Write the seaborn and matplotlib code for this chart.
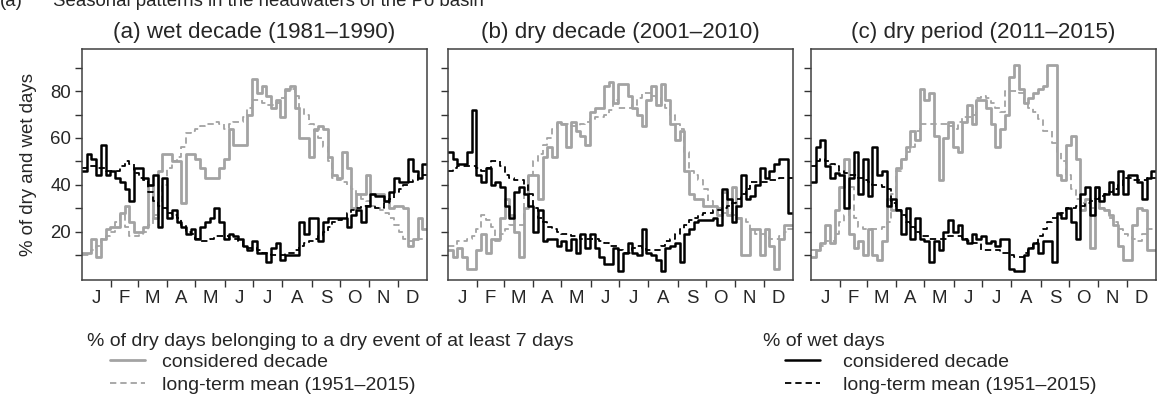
import numpy as np
import pandas as pd
import seaborn as sns
import matplotlib.pyplot as plt
from matplotlib.ticker import FixedLocator, NullFormatter

# pentad values (73 per year)
# (a) wet decade 1981-1990
wet_a = [46, 53, 51, 44, 57, 44, 46, 43, 41, 38, 33, 47,
         47, 43, 40, 44, 22, 43, 26, 29, 24, 22, 19, 21,
         17, 22, 24, 26, 30, 24, 17, 19, 18, 17, 14, 12,
         16, 11, 11, 7, 13, 15, 8, 10, 10, 10, 24, 19,
         26, 26, 16, 24, 26, 26, 26, 26, 22, 27, 29, 24,
         31, 36, 35, 35, 33, 37, 43, 41, 41, 51, 46, 43, 49]
wet_mean_a = [47, 48, 48, 47, 47, 46, 46, 46, 48, 50, 49, 45,
              43, 42, 37, 33, 31, 30, 28, 27, 26, 23, 20, 19,
              17, 16, 16, 17, 18, 18, 18, 17, 17, 16, 14, 13,
              13, 12, 11, 11, 10, 10, 10, 11, 11, 12, 14, 15,
              16, 17, 18, 20, 22, 24, 25, 26, 28, 29, 30, 31,
              31, 31, 30, 30, 32, 34, 37, 38, 40, 41, 42, 44, 44]
dry_a = [11, 11, 17, 9, 17, 21, 22, 22, 28, 31, 24, 20,
         20, 22, 40, 26, 46, 53, 53, 50, 50, 32, 53, 53,
         51, 47, 43, 43, 43, 47, 51, 64, 57, 57, 57, 70,
         85, 79, 82, 78, 73, 76, 69, 81, 82, 73, 60, 60,
         52, 64, 65, 64, 52, 44, 43, 54, 47, 30, 36, 36,
         44, 36, 36, 36, 33, 30, 31, 31, 30, 14, 17, 26, 21]
dry_mean_a = [10, 10, 12, 14, 17, 18, 20, 24, 27, 22, 18, 18,
              19, 20, 23, 27, 33, 40, 47, 50, 52, 56, 62, 63,
              64, 65, 66, 66, 67, 66, 64, 66, 67, 67, 69, 73,
              76, 76, 75, 74, 74, 75, 77, 80, 81, 78, 73, 70,
              66, 63, 60, 56, 50, 43, 42, 41, 40, 38, 36, 34,
              33, 31, 30, 29, 28, 26, 23, 20, 17, 16, 16, 17, 17]

# (b) dry decade 2001-2010
wet_b = [54, 51, 49, 49, 54, 72, 44, 41, 47, 40, 41, 39,
         31, 26, 37, 39, 36, 31, 20, 29, 16, 17, 17, 14,
         16, 12, 17, 11, 19, 13, 19, 13, 9, 6, 6, 13,
         3, 11, 15, 11, 10, 21, 11, 10, 8, 3, 13, 14,
         15, 7, 19, 21, 24, 25, 25, 25, 26, 23, 38, 34,
         24, 31, 44, 34, 35, 40, 47, 43, 46, 49, 51, 51, 28]
wet_mean_b = [46, 47, 48, 48, 48, 48, 47, 46, 47, 50, 50, 48,
              44, 43, 42, 42, 40, 36, 30, 26, 24, 22, 21, 20,
              19, 19, 18, 18, 17, 17, 17, 17, 16, 15, 14, 14,
              12, 11, 11, 13, 14, 13, 12, 12, 12, 14, 16, 17,
              19, 21, 23, 25, 26, 27, 28, 28, 29, 29, 30, 31,
              32, 34, 36, 38, 41, 41, 41, 41, 42, 42, 43, 43, 43]
dry_b = [12, 9, 13, 9, 4, 4, 12, 19, 11, 17, 17, 26,
         34, 27, 20, 9, 30, 44, 44, 34, 52, 56, 52, 67,
         66, 56, 67, 63, 61, 57, 71, 73, 73, 82, 84, 75,
         83, 83, 78, 73, 70, 65, 76, 82, 74, 83, 76, 66,
         59, 63, 46, 36, 34, 34, 31, 31, 31, 27, 37, 27,
         39, 26, 10, 10, 21, 21, 10, 21, 14, 4, 17, 23, 23]
dry_mean_b = [14, 14, 16, 16, 17, 18, 21, 27, 25, 22, 16, 19,
              21, 23, 23, 23, 37, 44, 50, 53, 57, 60, 64, 66,
              66, 66, 65, 65, 66, 67, 68, 69, 69, 70, 72, 76,
              73, 73, 73, 74, 77, 79, 79, 78, 77, 75, 73, 70,
              66, 64, 54, 46, 44, 42, 38, 33, 31, 30, 28, 28,
              27, 26, 26, 24, 21, 19, 19, 18, 17, 17, 18, 20, 21]

# (c) dry period 2011-2015
wet_c = [41, 56, 59, 48, 43, 45, 44, 30, 43, 54, 36, 51,
         35, 56, 44, 46, 31, 34, 29, 19, 30, 17, 26, 17,
         16, 7, 16, 12, 20, 25, 20, 23, 17, 15, 19, 17,
         18, 15, 16, 14, 17, 17, 4, 3, 3, 10, 13, 15,
         11, 16, 16, 7, 28, 26, 30, 24, 17, 36, 39, 27,
         39, 33, 36, 41, 36, 46, 36, 44, 44, 41, 34, 43, 46]
wet_mean_c = [48, 50, 51, 50, 49, 48, 46, 45, 44, 44, 43, 42,
              41, 40, 40, 39, 38, 32, 29, 27, 24, 22, 20, 18,
              18, 17, 17, 17, 17, 18, 18, 18, 17, 16, 15, 15,
              12, 12, 12, 12, 11, 11, 10, 9, 9, 11, 13, 15,
              18, 21, 24, 26, 27, 28, 30, 30, 31, 31, 32, 33,
              34, 35, 36, 37, 38, 40, 43, 43, 42, 42, 42, 43, 43]
dry_c = [9, 12, 15, 23, 15, 29, 39, 51, 19, 13, 16, 10,
         21, 10, 8, 16, 34, 29, 47, 51, 56, 63, 59, 81,
         76, 79, 61, 42, 60, 67, 56, 54, 67, 74, 66, 76,
         76, 73, 66, 56, 64, 70, 86, 91, 81, 75, 77, 79,
         81, 82, 91, 91, 44, 42, 57, 61, 51, 29, 34, 13,
         39, 30, 29, 27, 23, 14, 8, 8, 23, 30, 29, 12, 12]
dry_mean_c = [12, 12, 14, 16, 16, 19, 24, 27, 39, 26, 22, 21,
              21, 21, 21, 22, 24, 36, 46, 51, 54, 56, 63, 66,
              66, 66, 66, 66, 66, 65, 64, 67, 69, 69, 70, 77,
              78, 77, 75, 73, 71, 80, 80, 80, 79, 75, 73, 71,
              68, 63, 63, 58, 54, 50, 44, 38, 34, 32, 31, 30,
              30, 30, 29, 26, 24, 21, 19, 18, 17, 16, 19, 21, 21]

titles = ['(a) wet decade (1981–1990)', '(b) dry decade (2001–2010)',
          '(c) dry period (2011–2015)']
months = ['J', 'F', 'M', 'A', 'M', 'J', 'J', 'A', 'S', 'O', 'N', 'D']
month_days = [31, 28, 31, 30, 31, 30, 31, 31, 30, 31, 30, 31]

panels = [(wet_a, wet_mean_a, dry_a, dry_mean_a),
          (wet_b, wet_mean_b, dry_b, dry_mean_b),
          (wet_c, wet_mean_c, dry_c, dry_mean_c)]

sns.set_style('ticks')
plt.rcParams['font.family'] = ['Liberation Sans', 'DejaVu Sans']
plt.rcParams['font.size'] = 13.4

GRAY = '#a3a3a3'
fig = plt.figure(figsize=(11.59, 4.03), dpi=100)
W, H = 1159, 403
lefts = [82, 448, 811]

bounds = np.concatenate([[0], np.cumsum(month_days)])
mids = (bounds[:-1] + bounds[1:]) / 2


def steps(vals):
    # pentad starts, closed at day 365
    x = np.append(np.arange(len(vals)) * 5, 365)
    y = np.append(vals, vals[-1])
    return pd.DataFrame({'day': x, 'pct': y})


axes = []
for k, (wet, wet_m, dry, dry_m) in enumerate(panels):
    ax = fig.add_axes([lefts[k] / W, 1 - 280 / H, 345 / W, 231 / H])
    axes.append(ax)
    sns.lineplot(data=steps(dry_m), x='day', y='pct', ax=ax, color=GRAY,
                 lw=1.3, linestyle=(0, (3.5, 2.2)),
                 drawstyle='steps-post', label='long-term mean (1951–2015)')
    sns.lineplot(data=steps(dry), x='day', y='pct', ax=ax, color=GRAY,
                 lw=2.0, drawstyle='steps-post', label='considered decade')
    sns.lineplot(data=steps(wet_m), x='day', y='pct', ax=ax, color='black',
                 lw=1.3, linestyle=(0, (3.5, 2.2)),
                 drawstyle='steps-post', label='long-term mean (1951–2015) ')
    sns.lineplot(data=steps(wet), x='day', y='pct', ax=ax, color='black',
                 lw=1.8, drawstyle='steps-post', label='considered decade ')
    ax.get_legend().remove()

    ax.set_xlim(0, 365)
    ax.set_ylim(-0.7, 98)
    ax.set_xticks(mids)
    ax.set_xticklabels(months)
    ax.xaxis.set_minor_locator(FixedLocator(bounds[1:-1]))
    ax.tick_params(axis='x', which='major', length=0, pad=7)
    ax.tick_params(axis='x', which='minor', length=5, width=1, color='#333333')
    ax.set_yticks(np.arange(10, 91, 10))
    if k == 0:
        ax.set_yticklabels(['' if v % 20 else str(v) for v in range(10, 91, 10)])
        ax.set_ylabel('% of dry and wet days', labelpad=9)
    else:
        ax.yaxis.set_major_formatter(NullFormatter())
        ax.set_ylabel('')
    ax.tick_params(axis='y', length=5, width=1, color='#333333', pad=3)
    ax.set_xlabel('')
    ax.set_title(titles[k], pad=8)
    for sp in ax.spines.values():
        sp.set_visible(True)
        sp.set_color('#404040')
        sp.set_linewidth(1.1)

handles, labels = axes[0].get_legend_handles_labels()
# header lines of the two legend groups
fig.text(87 / W, 1 - 341 / H, '% of dry days belonging to a dry event of at least 7 days',
         va='center', ha='left', fontsize=14)
fig.text(763 / W, 1 - 341 / H, '% of wet days', va='center', ha='left', fontsize=14)

leg_kw = dict(loc='upper left', frameon=False, handlelength=1.8,
              labelspacing=0.3, borderpad=0, borderaxespad=0, fontsize=14)
leg1 = fig.legend([handles[1], handles[0]], [labels[1], labels[0]],
                  bbox_to_anchor=(110 / W, 1 - 353 / H), handletextpad=0.9, **leg_kw)
leg2 = fig.legend([handles[3], handles[2]], [labels[3].strip(), labels[2].strip()],
                  bbox_to_anchor=(785 / W, 1 - 353 / H), handletextpad=1.2, **leg_kw)

fig.text(0, 1 - 6 / H, '(a)', va='baseline', ha='left')
fig.text(53 / W, 1 - 6 / H, 'Seasonal patterns in the headwaters of the Po basin',
         va='baseline', ha='left')

fig.savefig('out.png', dpi=100)
